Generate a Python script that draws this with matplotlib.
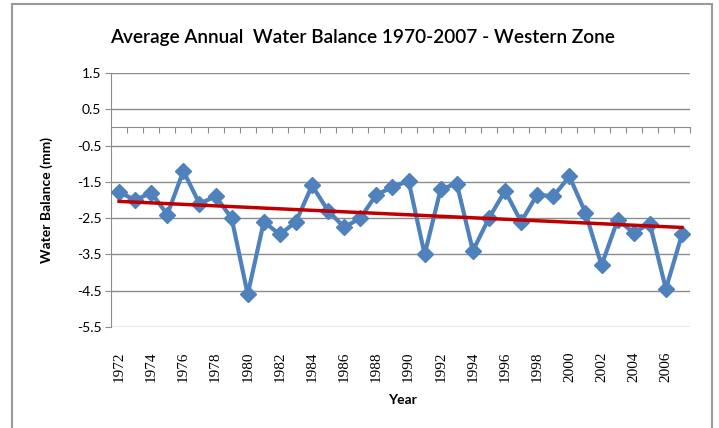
import numpy as np
import matplotlib
matplotlib.use('Agg')
import matplotlib.pyplot as plt
from matplotlib.patches import Rectangle

years = list(range(1972, 2008))
balance = [-1.78, -2.0, -1.8, -2.4, -1.2, -2.1, -1.9, -2.5, -4.6, -2.6,
           -2.95, -2.6, -1.6, -2.3, -2.75, -2.5, -1.85, -1.65, -1.47, -3.5,
           -1.7, -1.55, -3.4, -2.5, -1.75, -2.6, -1.85, -1.9, -1.35, -2.35,
           -3.8, -2.55, -2.9, -2.65, -4.45, -2.95]
yticks = [1.5, 0.5, -0.5, -1.5, -2.5, -3.5, -4.5, -5.5]

BLUE = '#4F81BD'
RED = '#C00000'
GRID = '#8C8C8C'

fig = plt.figure(figsize=(7.19, 4.28), dpi=100)
fig.patches.append(Rectangle((12 / 719, -0.05), 700 / 719, 1.04, transform=fig.transFigure,
                             fill=False, edgecolor='#9A9A9A', linewidth=1.5))
ax = fig.add_axes([111 / 719, 1 - 327 / 428, 579 / 719, 254 / 428])

x = np.arange(len(years))
ax.plot(x, balance, color=BLUE, linewidth=3, marker='D', markersize=8.5,
        markerfacecolor=BLUE, markeredgecolor=BLUE, zorder=3)

# linear trend line, as in the spreadsheet
coef = np.polyfit(x, balance, 1)
ax.plot([x[0], x[-1]], np.polyval(coef, [x[0], x[-1]]), color=RED, linewidth=2.5, zorder=4)

ax.set_xlim(-0.5, len(years) - 0.5)
ax.set_ylim(-5.5, 1.5)
ax.set_yticks(yticks)
ax.set_yticklabels([f'{v:.1f}' for v in yticks], family='Lato', fontsize=10)
ax.yaxis.grid(True, color=GRID, linewidth=1)
ax.set_axisbelow(True)
ax.tick_params(axis='y', length=4, color=GRID, pad=3)

for s in ['top', 'right']:
    ax.spines[s].set_visible(False)
ax.spines['left'].set_color(GRID)
ax.spines['bottom'].set_color(GRID)
ax.spines['bottom'].set_position(('data', 0))

# category boundary ticks hanging from the zero line
ax.set_xticks(np.arange(-0.5, len(years), 1.0))
ax.set_xticklabels([])
ax.tick_params(axis='x', length=4, color=GRID, direction='out')

# year labels at the bottom of the plot area
sec = ax.secondary_xaxis(0)
sec.set_xticks(x[::2])
sec.set_xticklabels([str(y) for y in years[::2]], rotation=90,
                    family='Liberation Serif', fontsize=11)
sec.tick_params(length=0, pad=18)
sec.spines['bottom'].set_visible(False)

fig.text(362 / 719, 1 - 37 / 428, 'Average Annual  Water Balance 1970-2007 - Western Zone',
         ha='center', va='center', family='Lato', fontsize=13.7, fontweight='semibold')
fig.text(47 / 719, 1 - 200 / 428, 'Water Balance (mm)', rotation=90, ha='center',
         va='center', family='Lato', fontsize=10, fontweight='bold')
fig.text(402 / 719, 1 - 400 / 428, 'Year', ha='center', va='center',
         family='Lato', fontsize=10, fontweight='bold')

fig.savefig('out.png', dpi=100)
